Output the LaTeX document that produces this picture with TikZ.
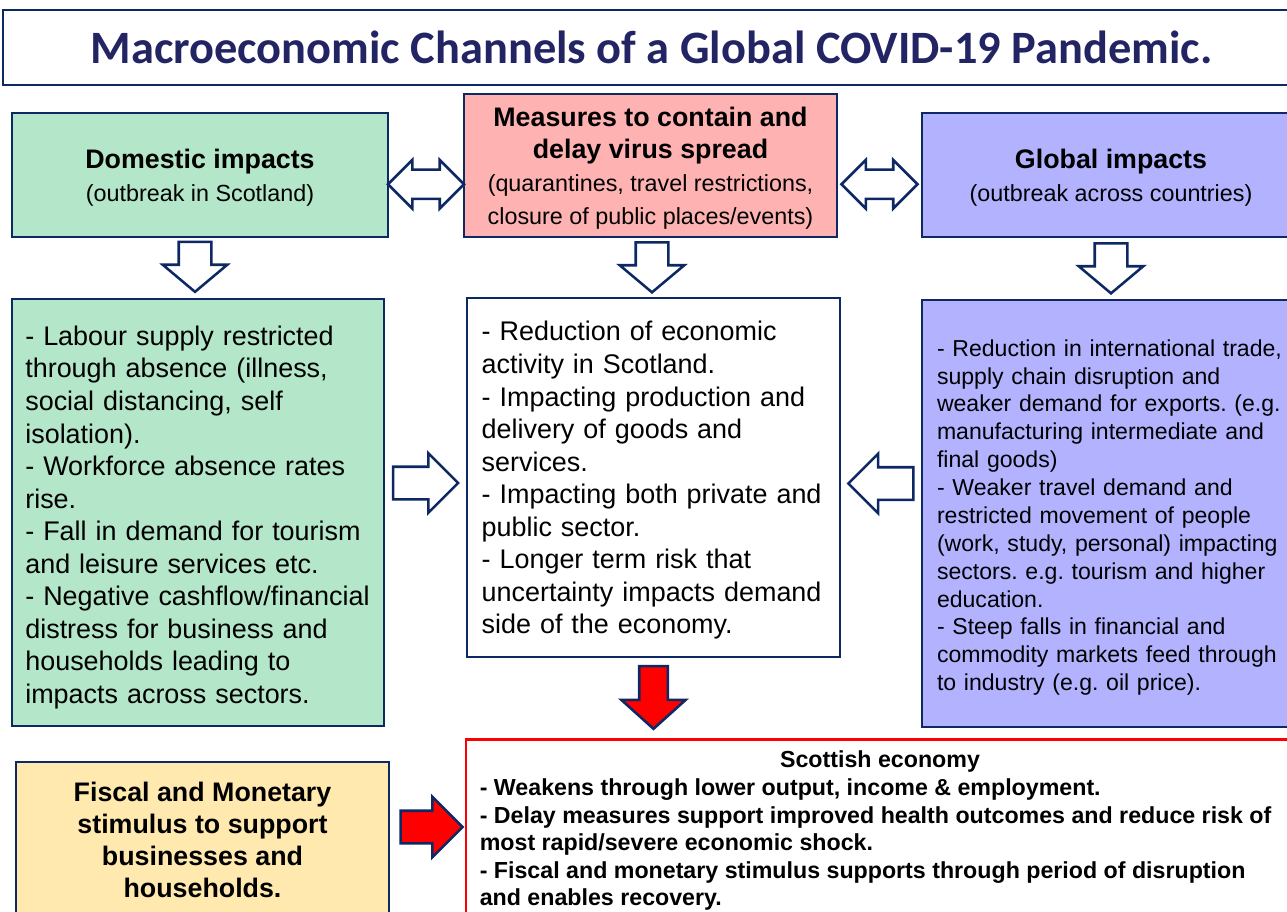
\documentclass[tikz,border=0pt]{standalone}
\usepackage{fontspec}
\setmainfont{Liberation Sans}
\newfontfamily\titlefont{Carlito}
\usetikzlibrary{shapes.arrows,calc,positioning}

\definecolor{navy}{RGB}{14,40,100}
\definecolor{titleblue}{RGB}{35,36,100}
\definecolor{domgreen}{RGB}{180,230,201}
\definecolor{measpink}{RGB}{255,178,178}
\definecolor{globlue}{RGB}{178,178,255}
\definecolor{fiscyellow}{RGB}{255,233,174}

\newcommand\boxhead{\fontsize{20.1}{24.5}\selectfont\bfseries}
\newcommand\boxsub{\fontsize{17.5}{22.5}\selectfont\mdseries}
\newcommand\boxlist{\fontsize{20.2}{24.4}\selectfont}
\newcommand\smalllist{\fontsize{17.3}{20.9}\selectfont}
\newcommand\scotfont{\fontsize{17.4}{20.6}\selectfont\bfseries}
\frenchspacing

\begin{document}
\begin{tikzpicture}
        [
        x=0.75pt, y=-0.75pt,
        box/.style={draw=navy,line width=2.2pt,inner sep=0pt,align=center},
        headbox/.style={box,text depth=0pt},
        listbox/.style={box,align=left,font=\boxlist},
        bigarrow/.style={single arrow,draw=navy,line width=1.9pt,fill=white,
            inner xsep=0pt,minimum width=0pt},
        downarrow/.style={bigarrow,rotate=-90,minimum height=37.5pt,inner ysep=11.25pt,
            single arrow head extend=12pt,single arrow tip angle=100},
        sidearrow/.style={bigarrow,minimum height=48.75pt,inner ysep=11.25pt,
            single arrow head extend=10.1pt,single arrow tip angle=90},
        twoway/.style={double arrow,draw=navy,line width=1.9pt,fill=white,
            inner xsep=0pt,minimum width=0pt,minimum height=57pt,inner ysep=10pt,
            double arrow head extend=7.25pt,double arrow tip angle=90}
        ]
    \clip (0,0) rectangle (1287,911);

    % title
    \node[draw=navy,line width=1.1pt,minimum width=973pt,minimum height=56pt,
        font=\titlefont\fontsize{34.8}{40}\selectfont\bfseries,text=titleblue]
        (title) at (651.5,47.5) {Macroeconomic Channels of a Global COVID-19 Pandemic.};

    % top row
    \node[headbox,fill=domgreen,minimum width=282pt,minimum height=93pt,font=\boxhead]
        (dom) at (200,175) {Domestic impacts\\ \boxsub (outbreak in Scotland)};
    \node[headbox,fill=measpink,minimum width=279.75pt,minimum height=107.25pt,font=\boxhead]
        (meas) at (650.5,165.5) {Measures to contain and\\ delay virus spread\\
        \boxsub (quarantines, travel restrictions,\\ \boxsub closure of public places/events)};
    \node[headbox,fill=globlue,minimum width=283.5pt,minimum height=93pt,font=\boxhead]
        (glob) at (1111,175) {Global impacts\\ \boxsub (outbreak across countries)};

    % middle row
    \node[listbox,fill=domgreen,minimum width=279pt,minimum height=320.25pt,
        text width=259pt,text height=22pt] (domlist) at (198,512.5)
        {- Labour supply restricted\\ through absence (illness,\\ social distancing, self\\
        isolation).\\ - Workforce absence rates\\ rise.\\ - Fall in demand for tourism\\
        and leisure services etc.\\ - Negative cashflow/financial\\ distress for business and\\
        households leading to\\ impacts across sectors.};
    \node[listbox,fill=white,minimum width=279.75pt,minimum height=269.25pt,
        text width=257.75pt,text height=19pt] (midlist) at (653.5,477.5)
        {- Reduction of economic\\ activity in Scotland.\\ - Impacting production and\\
        delivery of goods and\\ services.\\ - Impacting both private and\\ public sector.\\
        - Longer term risk that\\ uncertainty impacts demand\\ side of the economy.};
    \node[listbox,fill=globlue,minimum width=283.5pt,minimum height=320.25pt,
        text width=261pt,text height=18.5pt,font=\smalllist] (globlist) at (1111,513.5)
        {- Reduction in international trade,\\ supply chain disruption and\\
        weaker demand for exports. (e.g.\\ manufacturing intermediate and\\ final goods)\\
        - Weaker travel demand and\\ restricted movement of people\\
        (work, study, personal) impacting\\ sectors. e.g. tourism and higher\\ education.\\
        - Steep falls in financial and\\ commodity markets feed through\\
        to industry (e.g. oil price).};

    % bottom row
    \node[box,fill=fiscyellow,minimum width=279.75pt,minimum height=117pt,
        font=\fontsize{20.1}{24}\selectfont\bfseries] (fisc) at (202.5,840)
        {Fiscal and Monetary\\ stimulus to support\\ businesses and\\ households.};
    \node[draw=red,line width=2.2pt,fill=white,minimum width=625.5pt,minimum height=143pt]
        (scot) at (883,834.5) {};
    \node[font=\scotfont] (scothead) at ($(scot.north)+(-3,24)$) {Scottish economy};
    \node[font=\scotfont,align=left,anchor=north west,inner sep=0pt]
        (scottext) at ($(scot.north west)+(15,41)$)
        {- Weakens through lower output, income \& employment.\\
        - Delay measures support improved health outcomes and reduce risk of\\
        most rapid/severe economic shock.\\
        - Fiscal and monetary stimulus supports through period of disruption\\
        and enables recovery.};

    % arrows
    \node[twoway] (a1) at ($(dom.east)!0.5!(meas.west)+(0,14)$) {};
    \node[twoway] (a2) at ($(meas.east)!0.5!(glob.west)+(0,14)$) {};
    \node[downarrow] (d1) at ($(dom.south)!0.5!(domlist.north)+(-4,-8)$) {};
    \node[downarrow] (d2) at ($(meas.south)!0.5!(midlist.north)+(0,-7)$) {};
    \node[downarrow] (d3) at ($(glob.south)!0.5!(globlist.north)+(0,-7)$) {};
    \node[sidearrow] (s1) at ($(domlist.east)!0.5!(midlist.west)+(-8,-12)$) {};
    \node[sidearrow,rotate=180] (s2) at ($(midlist.east)!0.5!(globlist.west)+(8,-12)$) {};
    \node[downarrow,fill=red,minimum height=47pt,inner ysep=9.75pt,
        single arrow head extend=13.5pt,single arrow tip angle=96]
        (r1) at ($(midlist.south)!0.5!(midlist.south |- scot.north)+(0,-7)$) {};
    \node[sidearrow,fill=red,minimum height=46.5pt,single arrow head extend=10.5pt]
        (r2) at ($(fisc.east)!0.5!(fisc.east -| scot.west)+(-4,-13)$) {};
\end{tikzpicture}
\end{document}
